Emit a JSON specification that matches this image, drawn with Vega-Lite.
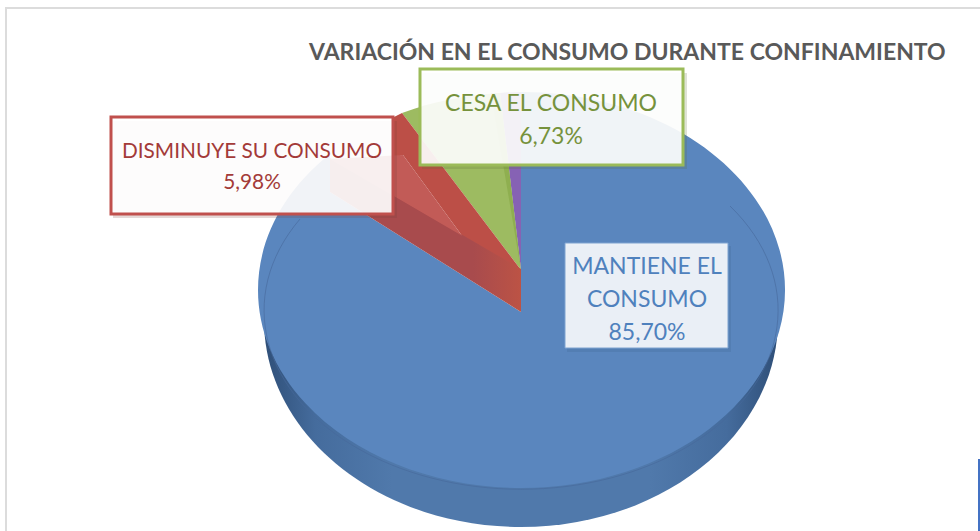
{
"$schema":"https://vega.github.io/schema/vega-lite/v6.json",
"width":980,"height":531,"padding":0,"autosize":{"type":"none"},
"background":"white",
"view":{"stroke":null},
"title":{"text":"VARIACIÓN EN EL CONSUMO DURANTE CONFINAMIENTO","anchor":"start","frame":"group","dx":309,"dy":83,"offset":0,"baseline":"alphabetic","font":"Lato","fontSize":23,"fontWeight":"bold","color":"#595959"},
"data":{"values":[
{"categoria":"MANTIENE EL CONSUMO","valor":85.70,"etiqueta":"MANTIENE EL\nCONSUMO\n85,70%"},
{"categoria":"CESA EL CONSUMO","valor":6.73,"etiqueta":"CESA EL CONSUMO\n6,73%"},
{"categoria":"OTROS","valor":1.59,"etiqueta":""},
{"categoria":"DISMINUYE SU CONSUMO","valor":5.98,"etiqueta":"DISMINUYE SU CONSUMO\n5,98%"}
]},
"layer":[
{"transform":[{"filter":"datum.categoria==='MANTIENE EL CONSUMO'"}],"mark":{"type":"point","size":4,"filled":true,"opacity":1,"shape":"M-226 54.5A257 207 0 0 0 288 54.5Z","fill":{"gradient":"linear","x1":0,"y1":0,"x2":1,"y2":0,"stops":[{"offset":0,"color":"#2f4f78"},{"offset":0.1,"color":"#456c9d"},{"offset":0.25,"color":"#5079ab"},{"offset":0.75,"color":"#5079ab"},{"offset":0.9,"color":"#456c9d"},{"offset":1,"color":"#2f4f78"}]}}},
{"mark":{"type":"point","size":4,"filled":true,"opacity":1},"encoding":{
 "shape":{"field":"categoria","type":"nominal","legend":null,"scale":{"domain":["MANTIENE EL CONSUMO","CESA EL CONSUMO","OTROS","DISMINUYE SU CONSUMO"],"range":[
  "M31 46.5L-160 -73.5L-160 -111.5A263.5 198 0 1 0 31 -173.5Z",
  "M31 4.5L-88 -152.5A263.5 198 0 0 1 10 -172.5Z",
  "M31 4.5L10 -172.5A263.5 198 0 0 1 31 -173.5Z",
  "M-88 -152.5L-98 -147.5L-97 -107.5L-87 -110.5L-28 -29.8L31 4.5Z"]}},
 "fill":{"field":"categoria","type":"nominal","legend":null,"scale":{"domain":["MANTIENE EL CONSUMO","CESA EL CONSUMO","OTROS","DISMINUYE SU CONSUMO"],"range":["#5A86BE","#9DBB61","#8662B4","#BC4F47"]}}
}},
{"transform":[{"filter":"datum.categoria==='MANTIENE EL CONSUMO'"}],"mark":{"type":"point","size":4,"filled":false,"opacity":1,"strokeWidth":0.6,"stroke":"#46689a","shape":"M-190 -46.5A257 179 0 1 0 240 -59.5"}},
{"transform":[{"filter":"datum.categoria==='CESA EL CONSUMO'"}],"mark":{"type":"point","size":4,"filled":true,"opacity":1,"fill":"#8FAF50","shape":"M31 4.5L1 -172.5L10 -172.5Z"}},
{"transform":[{"filter":"datum.categoria==='DISMINUYE SU CONSUMO'"}],"mark":{"type":"point","size":4,"filled":true,"opacity":1,"shape":"M31 46.5L-160 -73.5L-160 -107.5L31 3.5Z","fill":{"gradient":"linear","x1":0,"y1":0,"x2":1,"y2":0,"stops":[{"offset":0,"color":"#A84B4D"},{"offset":0.75,"color":"#A84B4D"},{"offset":1,"color":"#BC5345"}]}}},
{"transform":[{"filter":"datum.categoria==='DISMINUYE SU CONSUMO'"}],"mark":{"type":"point","size":4,"filled":true,"opacity":1,"fill":"#C25B57","shape":"M-87 -110.5L-28 -29.8L-97 -69.9L-160 -106.5Z"}},

{"transform":[{"filter":"datum.categoria==='DISMINUYE SU CONSUMO'"}],"mark":{"type":"point","size":4,"filled":true,"opacity":0.2,"fill":"#7a3a38","shape":"M-377 -144.5H-93V-47.5H-377Z"}},
{"transform":[{"filter":"datum.categoria==='DISMINUYE SU CONSUMO'"}],"mark":{"type":"point","size":4,"filled":true,"opacity":1,"fill":"white","fillOpacity":0.91,"stroke":"#C0504D","strokeWidth":3,"shape":"M-379 -148.5H-97V-51.5H-379Z"}},
{"transform":[{"filter":"datum.categoria==='CESA EL CONSUMO'"}],"mark":{"type":"point","size":4,"filled":true,"opacity":0.2,"fill":"#5a6f33","shape":"M-68 -192.5H197V-96.5H-68Z"}},
{"transform":[{"filter":"datum.categoria==='CESA EL CONSUMO'"}],"mark":{"type":"point","size":4,"filled":true,"opacity":1,"fill":"white","fillOpacity":0.91,"stroke":"#9BBB59","strokeWidth":3,"shape":"M-70 -196.5H193V-100.5H-70Z"}},
{"transform":[{"filter":"datum.categoria==='MANTIENE EL CONSUMO'"}],"mark":{"type":"point","size":4,"filled":true,"opacity":0.15,"fill":"#2f4f78","shape":"M77 -19.5H241V86.5H77Z"}},
{"transform":[{"filter":"datum.categoria==='MANTIENE EL CONSUMO'"}],"mark":{"type":"point","size":4,"filled":true,"opacity":1,"fill":"white","fillOpacity":0.88,"stroke":"#7FA3D1","strokeWidth":1,"shape":"M75 -22.5H238V82.5H75Z"}},

{"transform":[{"filter":"datum.categoria==='DISMINUYE SU CONSUMO'"}],"mark":{"type":"text","font":"Lato","fontSize":20.8,"lineBreak":"\n","lineHeight":31,"align":"center","baseline":"middle","color":"#A33A38","dx":-238,"dy":-114},"encoding":{"text":{"field":"etiqueta"}}},
{"transform":[{"filter":"datum.categoria==='CESA EL CONSUMO'"}],"mark":{"type":"text","font":"Lato","fontSize":23,"lineBreak":"\n","lineHeight":33,"align":"center","baseline":"middle","color":"#76923C","dx":61,"dy":-162},"encoding":{"text":{"field":"etiqueta"}}},
{"transform":[{"filter":"datum.categoria==='MANTIENE EL CONSUMO'"}],"mark":{"type":"text","font":"Lato","fontSize":23,"lineBreak":"\n","lineHeight":33,"align":"center","baseline":"middle","color":"#4F81BD","dx":157,"dy":1},"encoding":{"text":{"field":"etiqueta"}}},

{"transform":[{"filter":"datum.categoria==='OTROS'"}],"mark":{"type":"point","size":4,"filled":false,"opacity":1,"stroke":"#DCDCDC","strokeWidth":2,"shape":"M-484 265.5V-257.5H490"}},
{"transform":[{"filter":"datum.categoria==='OTROS'"}],"mark":{"type":"point","size":4,"filled":true,"opacity":1,"fill":"#4472C4","shape":"M488 193.5H490V265.5H488Z"}}
]
}
